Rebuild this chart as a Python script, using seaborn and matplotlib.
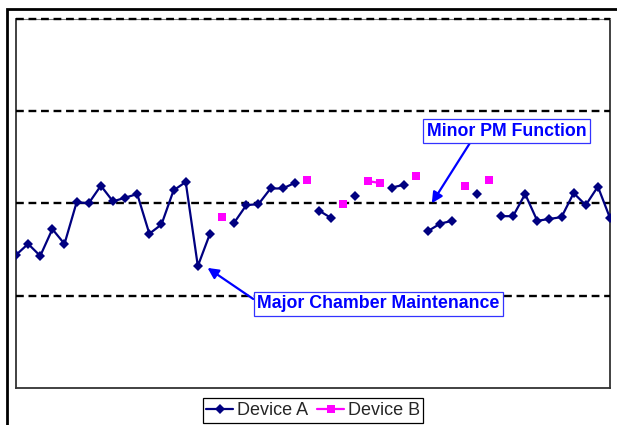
import numpy as np
import pandas as pd
import matplotlib
matplotlib.use("Agg")
import matplotlib.pyplot as plt
from matplotlib.lines import Line2D
from matplotlib.patches import Rectangle
import seaborn as sns

nan = np.nan

# Run number along the x axis
runs = list(range(50))

# Measured values per run (NaN where the run belongs to the other device)
device_a = [1.44, 1.56, 1.43, 1.72, 1.56, 2.01, 2.00, 2.19, 2.02, 2.06,
            2.10, 1.67, 1.77, 2.14, 2.23, 1.32, 1.67, nan, 1.79, 1.98,
            1.99, 2.16, 2.16, 2.22, nan, 1.92, 1.84, nan, 2.08, nan,
            nan, 2.17, 2.20, nan, 1.70, 1.78, 1.81, nan, 2.10, nan,
            1.86, 1.86, 2.10, 1.81, 1.83, 1.85, 2.11, 1.98, 2.18, 1.84]
device_b = [nan] * 17 + [1.85] + [nan] * 6 + [2.25] + [nan] * 2 + [1.99, nan, 2.24, 2.22] \
           + [nan] * 2 + [2.29] + [nan] * 3 + [2.19, nan, 2.25] + [nan] * 10

series_names = ["Device A", "Device B"]
colors = {"Device A": "#000080", "Device B": "#FF00FF"}
markers = {"Device A": "D", "Device B": "s"}
marker_sizes = {"Device A": 5.0, "Device B": 6.0}

gridlines = [1, 2, 3, 4]


def to_long(name, values):
    rows = []
    seg = 0
    prev_nan = True
    for r, v in zip(runs, values):
        if np.isnan(v):
            prev_nan = True
            continue
        if prev_nan:
            seg += 1
        prev_nan = False
        rows.append({"run": r, "value": v, "device": name, "seg": f"{name}-{seg}"})
    return rows


df = pd.DataFrame(to_long("Device A", device_a) + to_long("Device B", device_b))

sns.set_style("white")
plt.rcParams["font.family"] = ["Liberation Sans", "DejaVu Sans"]

W, H = 617, 425
fig = plt.figure(figsize=(W / 100, H / 100), dpi=100)
ax = fig.add_axes([16 / W, 1 - 388 / H, (610 - 16) / W, (388 - 18.5) / H])

for name in series_names:
    sub = df[df["device"] == name]
    sns.lineplot(data=sub, x="run", y="value", units="seg", estimator=None,
                 color=colors[name], marker=markers[name],
                 markersize=marker_sizes[name],
                 markeredgewidth=0, linewidth=1.6, sort=False, ax=ax, legend=False,
                 zorder=4)

ax.set_xlim(0, 49)
ax.set_ylim(0, 4)
for g in gridlines:
    ax.axhline(g, color="black", lw=1.7, linestyle=(0, (3.3, 2)),
               zorder=3, clip_on=False)

ax.set_xticks([])
ax.set_yticks([])
ax.set_xlabel("")
ax.set_ylabel("")
for side in ["left", "bottom", "right", "top"]:
    ax.spines[side].set_visible(True)
    ax.spines[side].set_color("#333333")
    ax.spines[side].set_linewidth(1.3)
ax.spines["top"].set_color("#777777")
ax.spines["top"].set_linewidth(0.8)

text_kw = dict(color="#0000FF", fontsize=12.8, fontweight="bold",
               ha="center", va="center")
box_kw = dict(boxstyle="square,pad=0.2", fc="white", ec="#3333FF", lw=0.9)

ax.annotate("Minor PM Function", xy=(34.3, 2.0), xytext=(40.45, 2.78),
            bbox=box_kw,
            arrowprops=dict(arrowstyle="-|>", color="#0000FF", lw=1.6,
                            mutation_scale=16, shrinkA=0, shrinkB=0,
                            relpos=(0.285, 0.0)),
            zorder=5, **text_kw)

ax.annotate("Major Chamber Maintenance", xy=(15.8, 1.30), xytext=(29.9, 0.91),
            bbox=box_kw,
            arrowprops=dict(arrowstyle="-|>", color="#0000FF", lw=1.6,
                            mutation_scale=16, shrinkA=0, shrinkB=0,
                            relpos=(0.0, 0.63)),
            zorder=5, **text_kw)

handles = [Line2D([0], [0], color=colors[n], marker=markers[n], lw=1.6,
                  markersize=marker_sizes[n], markeredgewidth=0)
           for n in series_names]
leg = fig.legend(handles, series_names, loc="center",
                 bbox_to_anchor=(313 / W, 1 - 410.5 / H), ncol=2,
                 fontsize=13, frameon=True, fancybox=False, framealpha=1,
                 edgecolor="black", borderpad=0.2, handlelength=1.5,
                 handletextpad=0.2, columnspacing=0.5, borderaxespad=0)
leg.get_frame().set_linewidth(0.9)

# Outer chart frame, extending past the right and bottom edges
fig.add_artist(Rectangle((7 / W, -0.5), 2.0, 0.5 + 1 - 9 / H,
                         transform=fig.transFigure, fill=False,
                         ec="black", lw=2.0, clip_on=False))

fig.savefig("out.png", dpi=100)
